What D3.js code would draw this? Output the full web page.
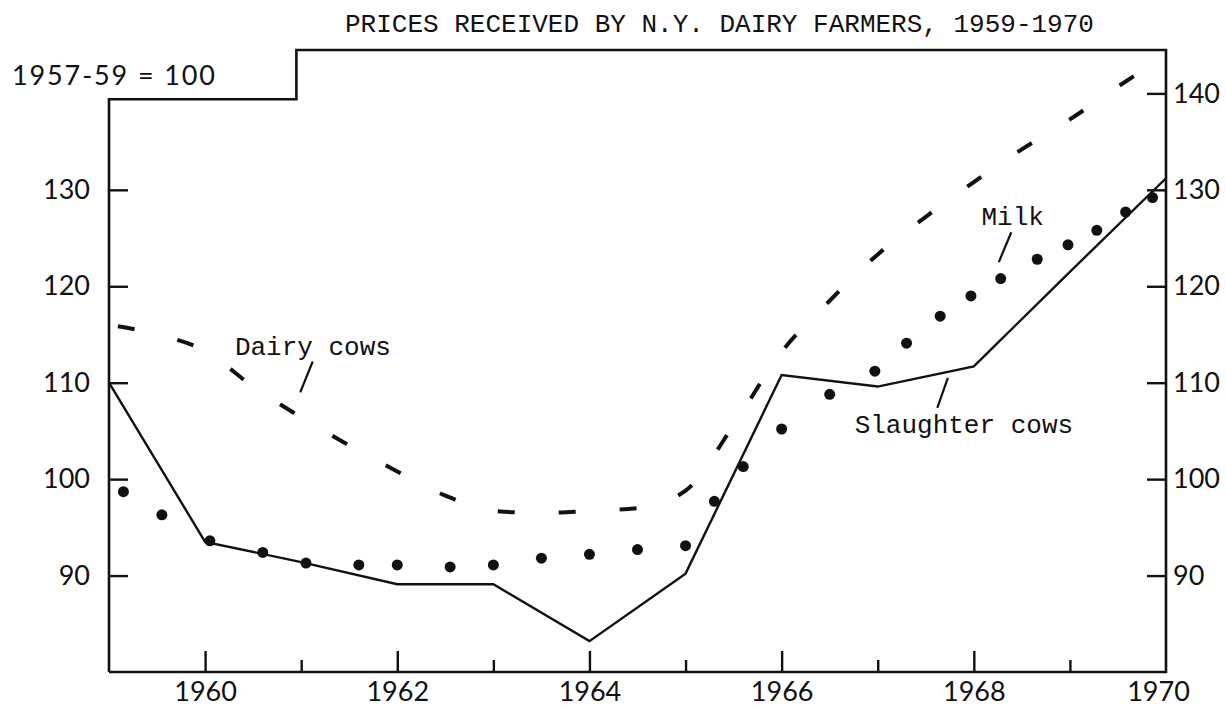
<!DOCTYPE html>
<html>
<head>
<meta charset="utf-8">
<script src="https://cdn.jsdelivr.net/npm/d3@7"></script>
<style>
  body { margin: 0; background: #fff; }
  svg { display: block; }
  .num { font-family: Lato, "DejaVu Sans", sans-serif; font-size: 27px; fill: #111; }
  .typ { font-family: "Liberation Mono", "DejaVu Sans Mono", monospace; font-size: 26px; fill: #111; }
</style>
</head>
<body>
<svg id="chart" width="1226" height="709"></svg>
<script>
// --- data (index, 1957-59 = 100) ---
var slaughterYears = [1959, 1960, 1961, 1962, 1963, 1964, 1965, 1966, 1967, 1968, 1969, 1970];
var slaughterValues = [110, 93.5, 91.4, 89.1, 89.1, 83.2, 90.2, 110.8, 109.6, 111.7, 121.5, 131.2];

var dairyYears = [1959, 1959.5, 1960, 1960.5, 1961, 1961.5, 1962, 1962.5, 1963, 1963.5, 1964, 1964.5,
                  1965, 1965.5, 1966, 1966.5, 1967, 1967.5, 1968, 1968.5, 1969, 1969.5, 1970];
var dairyValues = [116.0, 115.0, 113.3, 109.6, 106.4, 103.5, 100.8, 98.3, 96.7, 96.5, 96.7, 97.0,
                   98.8, 105.6, 113.2, 118.5, 123.3, 127.2, 130.8, 134.2, 137.3, 140.7, 144.0];

var milkYears = [1959.15, 1959.55, 1960.05, 1960.6, 1961.05, 1961.6, 1962.0, 1962.55, 1963.0, 1963.5,
                 1964.0, 1964.5, 1965.0, 1965.3, 1965.6, 1966.0, 1966.5, 1966.97, 1967.3, 1967.65,
                 1967.97, 1968.28, 1968.66, 1968.98, 1969.28, 1969.58, 1969.86];
var milkValues = [98.7, 96.3, 93.6, 92.4, 91.3, 91.1, 91.1, 90.9, 91.1, 91.8,
                  92.2, 92.7, 93.1, 97.7, 101.3, 105.2, 108.8, 111.2, 114.1, 116.9,
                  119.0, 120.8, 122.8, 124.3, 125.8, 127.7, 129.2];

var majorYears = [1960, 1962, 1964, 1966, 1968, 1970];
var minorYears = [1961, 1963, 1965, 1967, 1969];
var leftTicks = [90, 100, 110, 120, 130];
var rightTicks = [90, 100, 110, 120, 130, 140];

var titleText = "PRICES RECEIVED BY N.Y. DAIRY FARMERS, 1959-1970";
var baseText = "1957-59 = 100";
var labelNames = ["Dairy cows", "Milk", "Slaughter cows"];

// label spots and leader lines, in data units (year, index)
var labelSpots = [[1960.31, 112.9], [1968.08, 126.4], [1966.76, 104.8]];
var leaders = [
    [[1961.12, 112.2], [1960.99, 109.0]],
    [[1968.39, 125.6], [1968.26, 122.5]],
    [[1967.73, 110.5], [1967.62, 107.4]]
];

var svg = d3.select('#chart');

var x = d3.scaleLinear().domain([1959, 1970]).range([109, 1166]);
var y = d3.scaleLinear().domain([80, 144.5]).range([672, 50]);

// frame with the step at upper left
var stepYear = 1960.95, stepValue = 139.4;
var frame = d3.line();
svg.append('path')
    .attr('d', frame([
        [x(1959), y(80)], [x(1959), y(stepValue)], [x(stepYear), y(stepValue)],
        [x(stepYear), y(144.5)], [x(1970), y(144.5)], [x(1970), y(80)], [x(1959), y(80)]
    ]))
    .attr('fill', 'none')
    .attr('stroke', '#111')
    .attr('stroke-width', 2.6);

// axes
var bottomAxis = d3.axisBottom(x).tickValues(majorYears).tickFormat(d3.format('d'))
    .tickSizeInner(-21).tickSizeOuter(0).tickPadding(10);
var gb = svg.append('g').attr('transform', 'translate(0,' + y(80) + ')').call(bottomAxis);

var minorAxis = d3.axisBottom(x).tickValues(minorYears).tickFormat('')
    .tickSizeInner(-12).tickSizeOuter(0);
var gm = svg.append('g').attr('transform', 'translate(0,' + y(80) + ')').call(minorAxis);

var leftAxis = d3.axisLeft(y).tickValues(leftTicks).tickFormat(d3.format('d'))
    .tickSizeInner(-19).tickSizeOuter(0).tickPadding(19);
var gl = svg.append('g').attr('transform', 'translate(' + x(1959) + ',0)').call(leftAxis);

var rightAxis = d3.axisRight(y).tickValues(rightTicks).tickFormat(d3.format('d'))
    .tickSizeInner(-19).tickSizeOuter(0).tickPadding(7);
var gr = svg.append('g').attr('transform', 'translate(' + x(1970) + ',0)').call(rightAxis);

[gb, gm, gl, gr].forEach(function(g) {
    g.select('.domain').remove();
    g.selectAll('line').attr('stroke', '#111').attr('stroke-width', 2.4);
    g.selectAll('text').attr('class', 'num').attr('fill', null);
    g.attr('font-family', null).attr('font-size', null);
});
// the 1970 tick sits on the right edge of the frame, its label a bit to the left
var t1970 = gb.selectAll('.tick').filter(function(d) { return d === 1970; });
t1970.select('line').remove();
t1970.select('text').attr('x', -8);

// series
var line = d3.line()
    .x(function(d) { return x(d[0]); })
    .y(function(d) { return y(d[1]); });

svg.append('path')
    .datum(d3.zip(dairyYears, dairyValues))
    .attr('d', line.curve(d3.curveMonotoneX))
    .attr('fill', 'none')
    .attr('stroke', '#111')
    .attr('stroke-width', 4)
    .attr('stroke-dasharray', '17 44')
    .attr('stroke-dashoffset', 52);

svg.append('path')
    .datum(d3.zip(slaughterYears, slaughterValues))
    .attr('d', line.curve(d3.curveLinear))
    .attr('fill', 'none')
    .attr('stroke', '#111')
    .attr('stroke-width', 2.4)
    .attr('stroke-linejoin', 'miter');

svg.append('g').selectAll('circle')
    .data(d3.zip(milkYears, milkValues))
    .enter().append('circle')
    .attr('cx', function(d) { return x(d[0]); })
    .attr('cy', function(d) { return y(d[1]); })
    .attr('r', 5.5)
    .attr('fill', '#111');

// texts
svg.append('text').attr('class', 'typ')
    .attr('x', 345).attr('y', 32)
    .text(titleText);

svg.append('text').attr('class', 'num')
    .attr('x', 12).attr('y', 85)
    .attr('textLength', 203).attr('lengthAdjust', 'spacing')
    .text(baseText);

labelNames.forEach(function(name, i) {
    svg.append('text').attr('class', 'typ')
        .attr('x', x(labelSpots[i][0]))
        .attr('y', y(labelSpots[i][1]))
        .text(name);
    svg.append('line')
        .attr('x1', x(leaders[i][0][0])).attr('y1', y(leaders[i][0][1]))
        .attr('x2', x(leaders[i][1][0])).attr('y2', y(leaders[i][1][1]))
        .attr('stroke', '#111')
        .attr('stroke-width', 2.2);
});
</script>
</body>
</html>
